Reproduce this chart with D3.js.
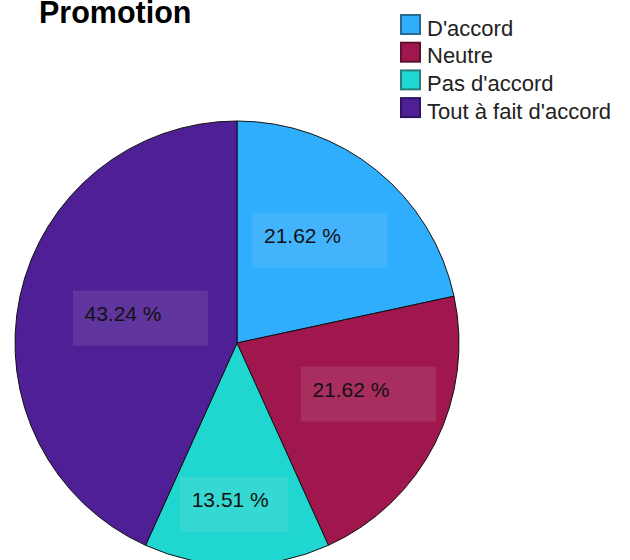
<!DOCTYPE html>
<html>
<head>
<meta charset="utf-8">
<script src="https://cdn.jsdelivr.net/npm/d3@7"></script>
<style>
  html, body { margin: 0; padding: 0; background: #fff; }
  svg { display: block; font-family: "Liberation Sans", Arial, sans-serif; }
</style>
</head>
<body>
<svg id="chart" width="630" height="560"></svg>
<script>
// Répartition des réponses – Promotion
const categories = ["D'accord", "Neutre", "Pas d'accord", "Tout à fait d'accord"];
const values = [21.62, 21.62, 13.51, 43.24];
const sliceColors = ["#2FAEFE", "#A0174E", "#20D6D0", "#4F1F95"];
const legendBorders = ["#2A6A92", "#5E1030", "#2A7E7A", "#2E1560"];
const valueLabels = values.map(v => v.toFixed(2) + " %");

// Layout constants for the value tags (radius as a share of the pie radius, angle nudge in degrees, tag width)
const tagRadius = [0.595, 0.635, 0.727, 0.449];
const tagNudge = [0, -5.5, 1, 2.3];
const tagWidth = [135, 135, 108, 135];

const svg = d3.select("#chart");
const cx = 237, cy = 343, R = 222;

svg.append("text")
  .attr("x", 39).attr("y", 22.5)
  .attr("font-size", 30.5).attr("font-weight", "bold")
  .attr("fill", "#000")
  .text("Promotion");

const pie = d3.pie().sort(null).value(d => d);
const arcs = pie(values);
const arc = d3.arc().innerRadius(0).outerRadius(R);

const g = svg.append("g").attr("transform", `translate(${cx},${cy})`);

g.selectAll("path.slice")
  .data(arcs)
  .join("path")
  .attr("class", "slice")
  .attr("d", arc)
  .attr("fill", (d, i) => sliceColors[i])
  .attr("stroke", "#111")
  .attr("stroke-width", 1);

const tags = g.selectAll("g.tag")
  .data(arcs)
  .join("g")
  .attr("class", "tag")
  .attr("transform", (d, i) => {
    const a = (d.startAngle + d.endAngle) / 2 + tagNudge[i] * Math.PI / 180;
    const r = R * tagRadius[i];
    return `translate(${r * Math.sin(a)},${-r * Math.cos(a)})`;
  });

tags.append("rect")
  .attr("x", (d, i) => -tagWidth[i] / 2)
  .attr("y", -27.5)
  .attr("width", (d, i) => tagWidth[i])
  .attr("height", 55)
  .attr("fill", "rgba(235,235,235,0.11)");

tags.append("text")
  .attr("x", (d, i) => -tagWidth[i] / 2 + 11.5)
  .attr("y", 3)
  .attr("font-size", 21)
  .attr("fill", "#111")
  .text((d, i) => valueLabels[i]);

// Legend
const legend = svg.append("g").attr("transform", "translate(400,14)");
const rows = legend.selectAll("g.row")
  .data(categories)
  .join("g")
  .attr("class", "row")
  .attr("transform", (d, i) => `translate(0,${i * 27.7})`);

rows.append("rect")
  .attr("x", 1).attr("y", 1)
  .attr("width", 19).attr("height", 19)
  .attr("fill", (d, i) => sliceColors[i])
  .attr("stroke", (d, i) => legendBorders[i])
  .attr("stroke-width", 2);

rows.append("text")
  .attr("x", 27).attr("y", 21.5)
  .attr("font-size", 22)
  .attr("fill", "#222")
  .text(d => d);
</script>
</body>
</html>
